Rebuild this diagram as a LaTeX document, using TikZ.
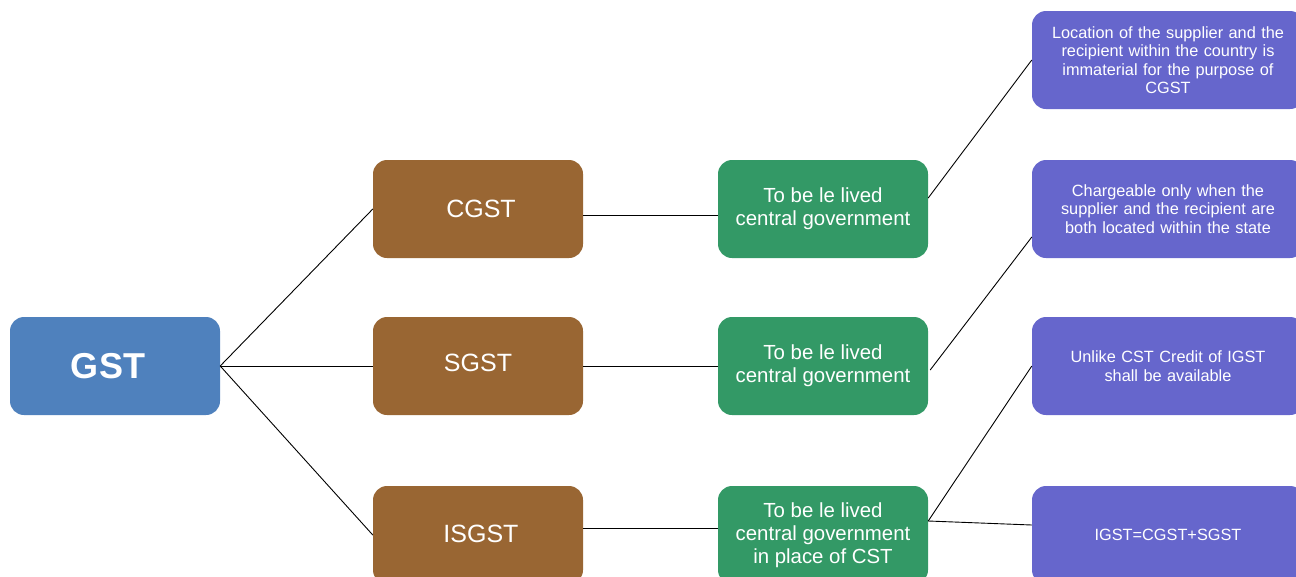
\documentclass[tikz,border=0pt]{standalone}
\usepackage{fontspec}
\setmainfont{Liberation Sans}
\usetikzlibrary{calc}
\definecolor{gstblue}{HTML}{4F81BD}
\definecolor{brownbox}{HTML}{996633}
\definecolor{greenbox}{HTML}{339966}
\definecolor{purplebox}{HTML}{6666CC}
\tikzset{
  box/.style={rounded corners=14pt, minimum width=210pt, minimum height=98pt, inner sep=0pt, text=white, align=center},
  rootbox/.style={box, fill=gstblue, font=\fontsize{36}{40}\selectfont\bfseries},
  lvone/.style={box, fill=brownbox, font=\fontsize{25}{29}\selectfont},
  lvtwo/.style={box, fill=greenbox, font=\fontsize{20.4}{23}\selectfont},
  lvthree/.style={box, fill=purplebox, minimum width=272pt, text width=260pt, font=\fontsize{16.3}{18.5}\selectfont},
  link/.style={draw=black, line width=0.9pt}
}
\begin{document}
\begin{tikzpicture}[x=1pt,y=-1pt]
\useasboundingbox (0,0) rectangle (1296,576);
\clip (0,0) rectangle (1296,576);
\node[rootbox] (gst) at (115,366) {GST\hspace*{14pt}};
\node[lvone] (cgst) at (478,209) {\hspace*{6pt}CGST};
\node[lvone] (sgst) at (478,366) {\raisebox{6pt}{SGST}};
\node[lvone] (igst) at (478,535) {\hspace*{6pt}\raisebox{2pt}{ISGST}};
\node[lvtwo] (g1) at (823,209) {To be le lived\\central government};
\node[lvtwo] (g2) at (823,366) {To be le lived\\central government};
\node[lvtwo] (g3) at (823,535) {To be le lived\\central government\\in place of CST};
\node[lvthree] (p1) at (1168,60) {Location of the supplier and the\\recipient within the country is\\immaterial for the purpose of\\CGST};
\node[lvthree] (p2) at (1168,209) {Chargeable only when the\\supplier and the recipient are\\both located within the state};
\node[lvthree] (p3) at (1168,366) {\raisebox{-3pt}{\parbox{260pt}{\centering Unlike CST Credit of IGST\\shall be available}}};
\node[lvthree] (p4) at (1168,535) {\raisebox{-4pt}{IGST=CGST+SGST}};
\draw[link] (gst.east) -- (cgst.west);
\draw[link] (gst.east) -- (sgst.west);
\draw[link] (gst.east) -- (igst.west);
\draw[link] ($(cgst.east)+(0,6)$) -- ($(g1.west)+(0,6)$);
\draw[link] (sgst.east) -- (g2.west);
\draw[link] ($(igst.east)+(0,-7)$) -- ($(g3.west)+(0,-7)$);
\draw[link] ($(g1.east)+(0,-11)$) -- ($(p1.west)+(0,0)$);
\draw[link] ($(g2.east)+(2,4)$) -- ($(p2.west)+(0,28)$);
\draw[link] ($(g3.east)+(0,-14)$) -- (p3.west);
\draw[link] ($(g3.east)+(0,-14)$) -- ($(p4.west)+(0,-10)$);
\end{tikzpicture}
\end{document}
